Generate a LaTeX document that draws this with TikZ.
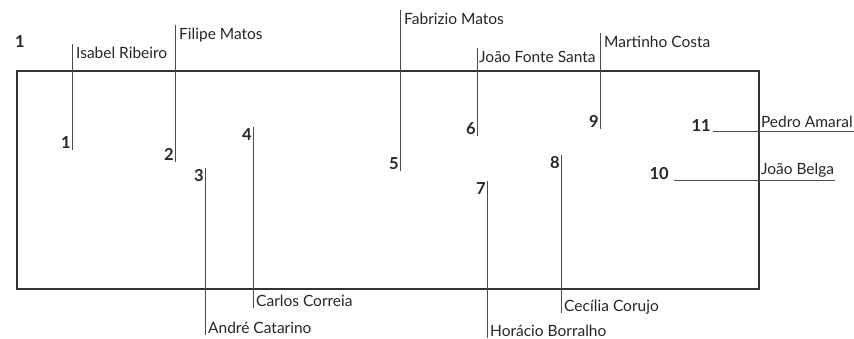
\documentclass[tikz,border=0pt]{standalone}
\usepackage{fontspec}
\setmainfont{Lato}
\usepackage{tikz}
\usetikzlibrary{positioning}
\usetikzlibrary{calc}

\begin{document}
\begin{tikzpicture}[x=1pt, y=-1pt,
    frame/.style={draw=black!80, line width=1.8pt, minimum width=742pt, minimum height=218pt, inner sep=0pt},
    leader/.style={draw=black!70, line width=0.9pt},
    person/.style={font=\fontsize{15.5}{17}\selectfont, inner sep=1pt, text=black!85},
    seat/.style={font=\fontsize{16.5}{19}\selectfont\bfseries, inner sep=1pt, text=black!85},
]
\useasboundingbox (0,0) rectangle (854,339);

% the table
\node[frame, anchor=north west] (table) at (16,70) {};
\node[seat] (fig) at (20,42) {1};

% leader ends
\coordinate (t1) at (72,44);   \coordinate (b1) at (72,150);
\coordinate (t2) at (175,25);  \coordinate (b2) at (175,162);
\coordinate (t3) at (205,168); \coordinate (b3) at (205,335);
\coordinate (t4) at (253,127); \coordinate (b4) at (253,308);
\coordinate (t5) at (400,10);  \coordinate (b5) at (400,171);
\coordinate (t6) at (477,48);  \coordinate (b6) at (477,136);
\coordinate (t7) at (487,181); \coordinate (b7) at (487,338);
\coordinate (t8) at (561,155); \coordinate (b8) at (561,313);
\coordinate (t9) at (600,33);  \coordinate (b9) at (600,129);
\coordinate (s10) at (674,180);
\coordinate (s11) at (713,131);

% seat numbers
\node[seat, anchor=south east] (n1) at (b1) {1};
\node[seat, anchor=south east] (n2) at (b2) {2};
\node[seat, anchor=north east] (n3) at (t3) {3};
\node[seat, anchor=north east] (n4) at (t4) {4};
\node[seat, anchor=south east] (n5) at (b5) {5};
\node[seat, anchor=south east] (n6) at (b6) {6};
\node[seat, anchor=north east] (n7) at (t7) {7};
\node[seat, anchor=north east] (n8) at (t8) {8};
\node[seat, anchor=south east] (n9) at (b9) {9};
\node[seat, anchor=base east, xshift=-4pt] (n10) at (s10) {10};
\node[seat, anchor=base east, xshift=-1pt, yshift=-1pt] (n11) at (s11) {11};

% names
\node[person, anchor=north west, xshift=3pt, yshift=-2pt] (p1) at (t1) {Isabel Ribeiro};
\node[person, anchor=north west, xshift=3pt, yshift=-2pt] (p2) at (t2) {Filipe Matos};
\node[person, anchor=base west, xshift=2pt, yshift=2pt] (p3) at (b3) {André Catarino};
\node[person, anchor=base west, xshift=2pt, yshift=2pt] (p4) at (b4) {Carlos Correia};
\node[person, anchor=north west, xshift=3pt, yshift=-2pt] (p5) at (t5) {Fabrizio Matos};
\node[person, anchor=north west, xshift=1pt, yshift=-2pt] (p6) at (t6) {João Fonte Santa};
\node[person, anchor=base west, xshift=2pt, yshift=2pt] (p7) at (b7) {Horácio Borralho};
\node[person, anchor=base west, xshift=2pt, yshift=2pt] (p8) at (b8) {Cecília Corujo};
\node[person, anchor=north west, xshift=3pt, yshift=-2pt] (p9) at (t9) {Martinho Costa};
\node[person, anchor=base west, yshift=5pt] (p10) at (s10 -| table.east) {João Belga};
\node[person, anchor=base west, yshift=3pt] (p11) at (s11 -| table.east) {Pedro Amaral};

% leaders
\foreach \i in {1,...,9}
  \draw[leader] (t\i) -- (b\i);
\draw[leader] (s10) -- (s10 -| p10.east);
\draw[leader] (s11) -- (s11 -| p11.east);

\end{tikzpicture}
\end{document}
